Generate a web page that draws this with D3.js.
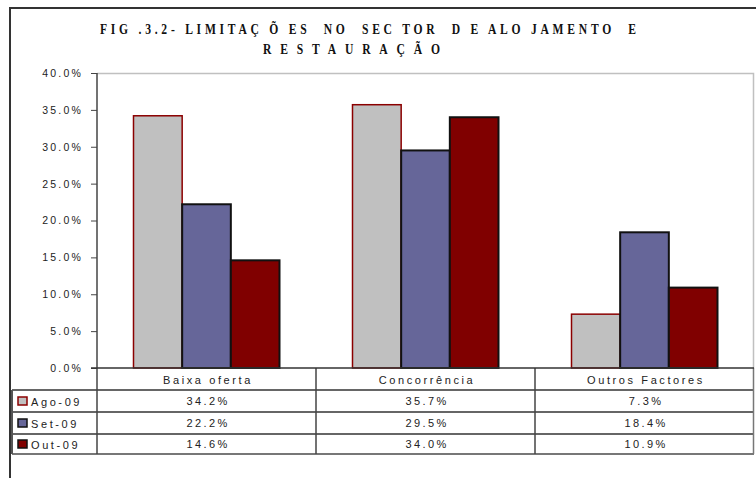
<!DOCTYPE html>
<html>
<head>
<meta charset="utf-8">
<script src="https://cdn.jsdelivr.net/npm/d3@7"></script>
<style>
  body { margin: 0; background: #fff; }
  text { font-family: "Liberation Sans", Arial, sans-serif; fill: #222; }
  .title { font-family: "Liberation Serif", "Times New Roman", serif; font-weight: bold; font-size: 14.5px; fill: #111; white-space: pre; }
</style>
</head>
<body>
<svg id="chart" width="756" height="478"></svg>
<script>
'use strict'

// data
var categories = ['Baixa oferta', 'Concorrência', 'Outros Factores']
var seriesNames = ['Ago-09', 'Set-09', 'Out-09']
var ago = [34.2, 35.7, 7.3]
var set = [22.2, 29.5, 18.4]
var out = [14.6, 34.0, 10.9]
var yTicks = [0, 5, 10, 15, 20, 25, 30, 35, 40]

var seriesValues = [ago, set, out]
var fills = ['#c0c0c0', '#666699', '#800000']
var strokes = ['#8b0000', '#111', '#111']

var svg = d3.select('#chart'),
    margin = {top: 73, left: 97, right: 2, bottom: 110},
    width = +svg.attr('width') - margin.left - margin.right,
    height = +svg.attr('height') - margin.top - margin.bottom

var x = d3.scaleBand()
    .domain(categories)
    .range([0, width])

var xs = d3.scaleBand()
    .domain(seriesNames)
    .range([0, x.bandwidth()])
    .paddingOuter(0.75)

var y = d3.scaleLinear()
    .domain([0, 40])
    .range([height, 0])

// outer frame
svg.append('path')
    .attr('d', 'M10,478 V8 H756')
    .attr('fill', 'none')
    .attr('stroke', '#333')
    .attr('stroke-width', 2)

// title (condensed serif, stretched with letter spacing)
var sx = 0.8
var tg = svg.append('g').attr('transform', 'scale(' + sx + ',1)')
tg.append('text').attr('class', 'title')
    .attr('x', 100 / sx).attr('y', 34)
    .attr('textLength', 536 / sx).attr('lengthAdjust', 'spacing')
    .text('FIG .3.2- LIMITAÇ Õ ES  NO  SEC TOR  D E ALO JAMENTO  E')
tg.append('text').attr('class', 'title')
    .attr('x', 263 / sx).attr('y', 54)
    .attr('textLength', 177 / sx).attr('lengthAdjust', 'spacing')
    .text('RESTAURAÇÃO')

var g = svg.append('g')
    .attr('transform', 'translate(' + margin.left + ',' + margin.top + ')')

// plot area border (top & right)
g.append('path')
    .attr('d', 'M0,0.5 H' + (width - 0.5) + ' V' + height)
    .attr('fill', 'none')
    .attr('stroke', '#c0c0c0')
    .attr('stroke-width', 1.5)

// bars
seriesValues.forEach(function(vals, si) {
  g.append('g').selectAll('rect')
    .data(vals)
    .enter().append('rect')
      .attr('x', (d, i) => x(categories[i]) + xs(seriesNames[si]))
      .attr('y', d => y(d))
      .attr('width', xs.bandwidth())
      .attr('height', d => height - y(d))
      .attr('fill', fills[si])
      .attr('stroke', strokes[si])
      .attr('stroke-width', si == 0 ? 1.5 : 2)
})

// y axis
var yAxis = g.append('g')
    .call(d3.axisLeft(y).tickValues(yTicks).tickSize(6).tickPadding(10)
      .tickFormat(d => d3.format('.1f')(d) + '%'))
yAxis.select('.domain').remove()
yAxis.selectAll('line').attr('stroke', '#444')
yAxis.selectAll('text')
    .attr('font-size', 10.5)
    .attr('letter-spacing', '2.2px')
    .attr('fill', '#333')
    .attr('font-family', '"Liberation Sans", Arial, sans-serif')
    .attr('dx', 2)

// data table under the plot
var rowY = [0, 22, 44, 66, 86]
var legendLeft = 12 - margin.left

var tbl = g.append('g').attr('transform', 'translate(0,' + height + ')')

// horizontal lines
rowY.slice(1).forEach(function(ry, i) {
  tbl.append('line')
    .attr('x1', legendLeft).attr('x2', width)
    .attr('y1', ry).attr('y2', ry)
    .attr('stroke', i == 3 ? '#777' : '#333')
    .attr('stroke-width', i == 3 ? 2 : 1.5)
})
// vertical lines
tbl.append('line').attr('x1', legendLeft).attr('x2', legendLeft)
    .attr('y1', rowY[1]).attr('y2', rowY[4]).attr('stroke', '#555').attr('stroke-width', 2)
categories.slice(1).forEach(function(c) {
  tbl.append('line').attr('x1', x(c)).attr('x2', x(c))
    .attr('y1', 0).attr('y2', rowY[4]).attr('stroke', '#444').attr('stroke-width', 1.5)
})
tbl.append('line').attr('x1', width - 0.5).attr('x2', width - 0.5)
    .attr('y1', 0).attr('y2', rowY[4]).attr('stroke', '#777').attr('stroke-width', 1.5)

// left axis line through the table and zero line
g.append('line').attr('x1', 0).attr('x2', 0)
    .attr('y1', 0).attr('y2', height + rowY[4]).attr('stroke', '#444').attr('stroke-width', 1.5)
g.append('line').attr('x1', -6).attr('x2', width)
    .attr('y1', height).attr('y2', height).attr('stroke', '#333').attr('stroke-width', 1.5)

// category header
tbl.selectAll('.cat')
  .data(categories)
  .enter().append('text')
    .attr('class', 'cat')
    .attr('x', d => x(d) + x.bandwidth() / 2 + 1.5)
    .attr('y', 16)
    .attr('text-anchor', 'middle')
    .attr('font-size', 11)
    .attr('letter-spacing', '2.6px')
    .text(d => d)

// rows
seriesNames.forEach(function(name, si) {
  var ry = rowY[si + 1]
  var rh = rowY[si + 2] - ry
  tbl.append('rect')
    .attr('x', legendLeft + 6).attr('y', ry + rh / 2 - 4)
    .attr('width', 9).attr('height', 8)
    .attr('fill', fills[si])
    .attr('stroke', strokes[si])
    .attr('stroke-width', 1.5)
  tbl.append('text')
    .attr('x', legendLeft + 19).attr('y', ry + rh / 2 + 4.5)
    .attr('font-size', 11)
    .attr('letter-spacing', '2.6px')
    .text(name)
  tbl.selectAll('.v' + si)
    .data(seriesValues[si])
    .enter().append('text')
      .attr('x', (d, i) => x(categories[i]) + x.bandwidth() / 2 + 1.5)
      .attr('y', ry + rh / 2 + 4)
      .attr('text-anchor', 'middle')
      .attr('font-size', 11)
      .attr('letter-spacing', '2.4px')
      .text(d => d3.format('.1f')(d) + '%')
})
</script>
</body>
</html>
